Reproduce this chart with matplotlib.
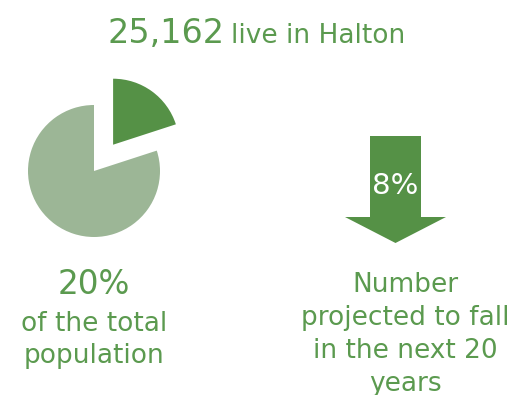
import matplotlib
matplotlib.use("Agg")
import matplotlib.pyplot as plt
from matplotlib.patches import FancyArrow

# %% Data
total_count = "25,162"
title_rest = "live in Halton"
share_values = [20, 80]          # % of total population, rest
share_colors = ["#559146", "#9cb696"]
share_label = "20%"
share_caption = ["of the total", "population"]
fall_value = "8%"
fall_caption = ["Number", "projected to fall", "in the next 20", "years"]

text_green = "#5b9a4f"
W, H = 518, 395

# %% Figure in pixel coordinates (y up)
fig = plt.figure(figsize=(W / 100, H / 100), dpi=100)
ax = fig.add_axes([0, 0, 1, 1])

# explode is in data units here (pixels)
ax.pie(share_values, colors=share_colors, startangle=90, counterclock=False,
       explode=[32.5, 0], radius=66, center=(94, H - 171),
       wedgeprops=dict(linewidth=0))

ax.add_patch(FancyArrow(395.5, H - 136, 0, -(243 - 136), width=51,
                        head_width=101, head_length=26,
                        length_includes_head=True, color="#559146", lw=0))

ax.set_xlim(0, W)
ax.set_ylim(0, H)
ax.set_aspect("auto")
ax.axis("off")

# title
ax.text(108, H - 43, total_count, fontsize=24, color=text_green,
        ha="left", va="baseline")
ax.text(231, H - 43, title_rest, fontsize=19, color=text_green,
        ha="left", va="baseline")

# left block
ax.text(94, H - 294, share_label, fontsize=23.5, color=text_green,
        ha="center", va="baseline")
for i, line in enumerate(share_caption):
    ax.text(94, H - 331 - 32 * i, line, fontsize=19, color=text_green,
            ha="center", va="baseline")

# arrow label and right block
ax.text(395, H - 194, fall_value, fontsize=21, color="white",
        ha="center", va="baseline")
for i, line in enumerate(fall_caption):
    ax.text(405, H - 292 - 33 * i, line, fontsize=19, color=text_green,
            ha="center", va="baseline")

plt.savefig("out.png", dpi=100)
